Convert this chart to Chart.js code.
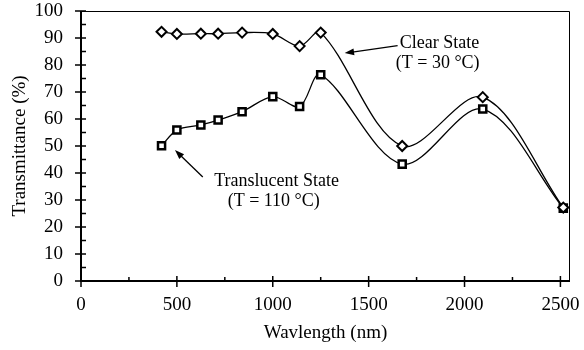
<!DOCTYPE html>
<html lang="en">
<head>
    <meta charset="UTF-8">
    <title>Transmittance vs Wavelength</title>
    <script src="https://cdn.jsdelivr.net/npm/chart.js"></script>
    <style>
        body {
            margin: 0;
            padding: 0;
            background: #ffffff;
        }

        .chart-container {
            width: 584px;
            height: 350px;
        }
    </style>
</head>
<body>
    <div class="chart-container">
        <canvas id="transChart"></canvas>
    </div>

    <script>
        // data
        const wavelengths = [420, 500, 625, 715, 840, 1000, 1140, 1250, 1675, 2095, 2515];
        const clearState = [92.3, 91.5, 91.6, 91.6, 92.0, 91.5, 87.0, 92.0, 50.0, 68.1, 27.2];
        const translucentState = [50.1, 55.9, 57.8, 59.6, 62.7, 68.3, 64.6, 76.4, 43.3, 63.7, 27.0];

        const xTicks = [0, 500, 1000, 1500, 2000, 2500];
        const yTicks = [0, 10, 20, 30, 40, 50, 60, 70, 80, 90, 100];

        const serif = '"Liberation Serif", "Times New Roman", serif';

        // text labels with arrows, in data units
        const notes = [
            { lines: ['Clear State', '(T = 30 \u00B0C)'], x: [1870, 1860], y: [88.1, 80.7], tail: [1651, 87.2], head: [1375, 84.4] },
            { lines: ['Translucent State', '(T = 110 \u00B0C)'], x: [1020, 1005], y: [37.0, 29.6], tail: [635, 38.5], head: [490, 48.5] }
        ];

        const frameAndTicks = {
            id: 'frameAndTicks',
            beforeDatasetsDraw(chart) {
                const { ctx, chartArea: a, scales: { x, y } } = chart;
                ctx.save();
                ctx.strokeStyle = '#000';

                // thin box on top and right
                ctx.lineWidth = 1;
                ctx.beginPath();
                ctx.moveTo(a.left, a.top + 0.5);
                ctx.lineTo(a.right - 0.5, a.top + 0.5);
                ctx.lineTo(a.right - 0.5, a.bottom);
                ctx.stroke();

                // axes
                ctx.lineWidth = 2;
                ctx.beginPath();
                ctx.moveTo(a.left, a.top);
                ctx.lineTo(a.left, a.bottom);
                ctx.lineTo(a.right, a.bottom);
                ctx.stroke();

                // y ticks: major cross the axis, minor inside
                ctx.lineWidth = 1.5;
                ctx.beginPath();
                yTicks.forEach((v, i) => {
                    const py = y.getPixelForValue(v);
                    ctx.moveTo(a.left - 6, py);
                    ctx.lineTo(a.left + 5, py);
                    if (i < yTicks.length - 1) {
                        const pm = y.getPixelForValue(v + 5);
                        ctx.moveTo(a.left, pm);
                        ctx.lineTo(a.left + 5, pm);
                    }
                });
                // x ticks
                xTicks.forEach((v, i) => {
                    const px = x.getPixelForValue(v);
                    ctx.moveTo(px, a.bottom - 5);
                    ctx.lineTo(px, a.bottom + 6);
                    if (i < xTicks.length - 1) {
                        const pm = x.getPixelForValue(v + 250);
                        ctx.moveTo(pm, a.bottom - 4);
                        ctx.lineTo(pm, a.bottom);
                    }
                });
                ctx.stroke();
                ctx.restore();
            },
            afterDraw(chart) {
                const { ctx, scales: { x, y } } = chart;
                ctx.save();
                ctx.fillStyle = '#000';
                ctx.strokeStyle = '#000';
                ctx.font = '18px ' + serif;
                ctx.textAlign = 'center';
                ctx.textBaseline = 'middle';
                notes.forEach(n => {
                    n.lines.forEach((t, i) => {
                        ctx.fillText(t, x.getPixelForValue(n.x[i]), y.getPixelForValue(n.y[i]));
                    });
                    const x1 = x.getPixelForValue(n.tail[0]), y1 = y.getPixelForValue(n.tail[1]);
                    const x2 = x.getPixelForValue(n.head[0]), y2 = y.getPixelForValue(n.head[1]);
                    const ang = Math.atan2(y2 - y1, x2 - x1);
                    ctx.lineWidth = 1.3;
                    ctx.beginPath();
                    ctx.moveTo(x1, y1);
                    ctx.lineTo(x2 - 6 * Math.cos(ang), y2 - 6 * Math.sin(ang));
                    ctx.stroke();
                    ctx.beginPath();
                    ctx.moveTo(x2, y2);
                    ctx.lineTo(x2 - 10 * Math.cos(ang - 0.35), y2 - 10 * Math.sin(ang - 0.35));
                    ctx.lineTo(x2 - 10 * Math.cos(ang + 0.35), y2 - 10 * Math.sin(ang + 0.35));
                    ctx.closePath();
                    ctx.fill();
                });
                ctx.restore();
            }
        };

        const ctx = document.getElementById('transChart').getContext('2d');
        new Chart(ctx, {
            type: 'line',
            data: {
                datasets: [{
                    label: 'Clear State (T = 30 \u00B0C)',
                    data: wavelengths.map((w, i) => ({ x: w, y: clearState[i] })),
                    borderColor: '#000',
                    borderWidth: 1.3,
                    tension: 0.33,
                    pointStyle: 'rectRot',
                    pointRadius: 5,
                    pointBorderWidth: 2,
                    pointBackgroundColor: '#fff',
                    pointBorderColor: '#000'
                }, {
                    label: 'Translucent State (T = 110 \u00B0C)',
                    data: wavelengths.map((w, i) => ({ x: w, y: translucentState[i] })),
                    borderColor: '#000',
                    borderWidth: 1.3,
                    tension: 0.33,
                    pointStyle: 'rect',
                    pointRadius: 5,
                    pointBorderWidth: 2.5,
                    pointBackgroundColor: '#fff',
                    pointBorderColor: '#000'
                }]
            },
            options: {
                responsive: true,
                maintainAspectRatio: false,
                animation: false,
                layout: { padding: { top: 11, right: 14, left: 0, bottom: 0 } },
                plugins: {
                    legend: { display: false },
                    tooltip: { enabled: false }
                },
                scales: {
                    x: {
                        type: 'linear',
                        min: 0,
                        max: 2550,
                        grid: { display: false, drawTicks: false },
                        border: { display: false },
                        afterBuildTicks(scale) { scale.ticks = xTicks.map(v => ({ value: v })); },
                        ticks: {
                            autoSkip: false,
                            maxRotation: 0,
                            padding: 13,
                            color: '#000',
                            font: { family: serif, size: 19 },
                            callback: v => String(v)
                        },
                        title: {
                            display: true,
                            text: 'Wavlength (nm)',
                            color: '#000',
                            font: { family: serif, size: 19 },
                            padding: { top: 0, bottom: 6 }
                        },
                        afterFit(scale) {
                            scale.height = 69;
                            scale.paddingLeft = 0;
                            scale.paddingRight = 0;
                        }
                    },
                    y: {
                        min: 0,
                        max: 100,
                        grid: { display: false, drawTicks: false },
                        border: { display: false },
                        afterBuildTicks(scale) { scale.ticks = yTicks.map(v => ({ value: v })); },
                        ticks: {
                            autoSkip: false,
                            padding: 18,
                            color: '#000',
                            font: { family: serif, size: 19 },
                            callback: v => String(v)
                        },
                        title: {
                            display: true,
                            text: 'Transmittance (%)',
                            color: '#000',
                            font: { family: serif, size: 19 },
                            padding: { top: 9, bottom: 0 }
                        },
                        afterFit(scale) {
                            scale.width = 81;
                            scale.paddingTop = 0;
                            scale.paddingBottom = 0;
                        }
                    }
                }
            },
            plugins: [frameAndTicks]
        });
    </script>
</body>
</html>
